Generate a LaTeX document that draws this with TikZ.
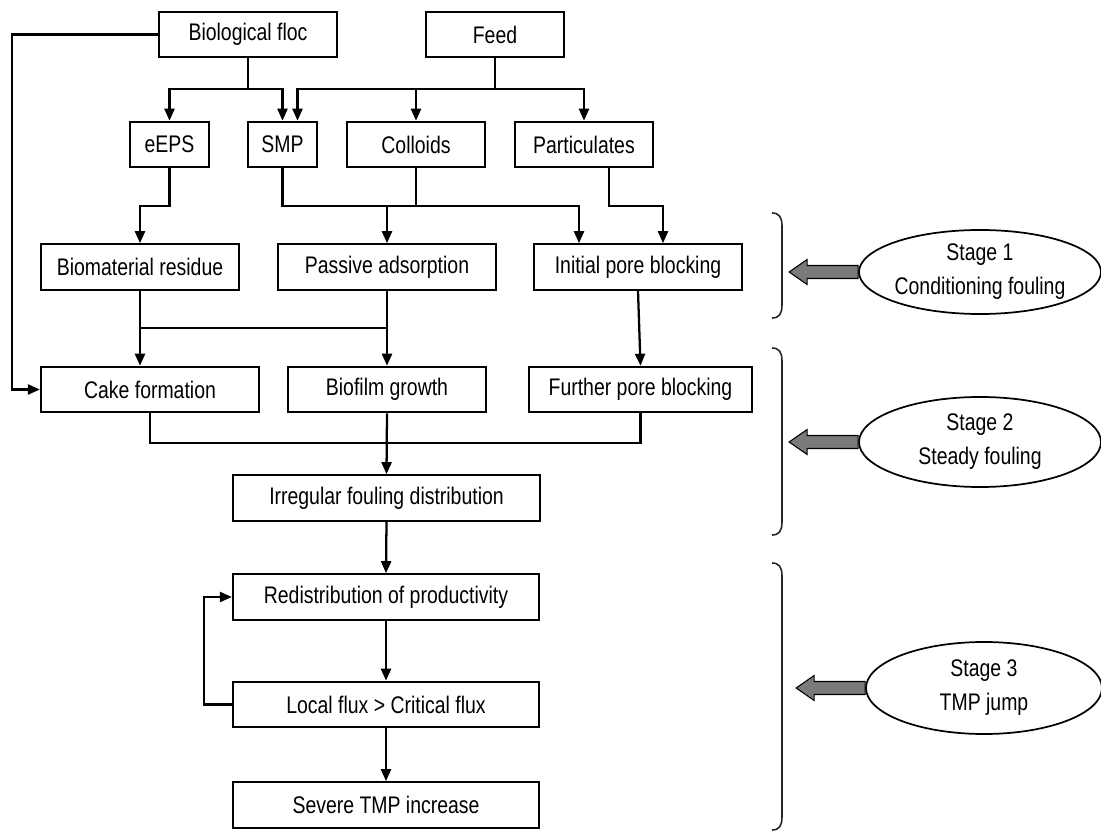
\documentclass[tikz,border=0pt]{standalone}
\usepackage{fontspec}
\setmainfont{Liberation Sans}[FakeStretch=0.81]
\usetikzlibrary{arrows.meta,calc,shapes.geometric}
\begin{document}
\begin{tikzpicture}[x=0.75pt,y=-0.75pt,
  box/.style={draw,line width=1.7pt,minimum height=34pt,inner sep=0pt,
    font=\fontsize{18pt}{21pt}\selectfont},
  conn/.style={line width=1.7pt},
  arr/.style={conn,-{Triangle[length=9pt,width=7.5pt]}},
  stageell/.style={draw,ellipse,line width=1.3pt,inner sep=0pt,minimum width=181.5pt,minimum height=63pt},
  stagetxt/.style={align=center,font=\fontsize{18pt}{25.5pt}\selectfont},
  bracket/.style={line width=1.2pt,draw=black!85},
  blockarr/.style={fill=black!52,draw=black,line width=0.8pt,line join=miter}]
\useasboundingbox (0,0) rectangle (1101,831);
% boxes
\node[box,minimum width=133.5pt] (bio) at (248,34.5) {Biological floc};
\node[box,minimum width=103.5pt] (feed) at (495,34.5) {Feed};
\node[box,minimum width=59.25pt] (eeps) at (169.5,144.5) {eEPS};
\node[box,minimum width=51.75pt] (smp) at (282.5,144.5) {SMP};
\node[box,minimum width=103.5pt] (coll) at (416,144.5) {Colloids};
\node[box,minimum width=103.5pt] (part) at (584,144.5) {Particulates};
\node[box,minimum width=148.5pt] (bres) at (140,267) {Biomaterial residue};
\node[box,minimum width=163.5pt] (pads) at (387,267) {Passive adsorption};
\node[box,minimum width=156pt] (ipb) at (638,267) {Initial pore blocking};
\node[box,minimum width=163.5pt] (cake) at (150,389.5) {Cake formation};
\node[box,minimum width=148.5pt] (bfg) at (387,389.5) {Biofilm growth};
\node[box,minimum width=167.25pt] (fpb) at (640.5,389.5) {Further pore blocking};
\node[box,minimum width=230.25pt] (irr) at (386.5,498) {Irregular fouling distribution};
\node[box,minimum width=229.5pt] (red) at (386,597) {Redistribution of productivity};
\node[box,minimum width=229.5pt] (loc) at (386,704.5) {Local flux > Critical flux};
\node[box,minimum width=229.5pt] (sev) at (386,805) {Severe TMP increase};
% junction levels
\coordinate (jA) at (0,89);
\coordinate (jB) at (0,206);
\coordinate (jC) at (0,328);
\coordinate (jD) at (0,443);
\coordinate (jL) at (12,0);
\coordinate (jE) at (204,0);
\coordinate (smpR) at ($(smp.north)+(15,0)$);
\coordinate (ipbL) at ($(ipb.north)+(-59,0)$);
\coordinate (ipbR) at ($(ipb.north)+(25,0)$);
\coordinate (partR) at ($(part.south)+(25,0)$);
% connectors top
\draw[arr] (bio.south) -- (bio.south |- jA) -| (eeps.north);
\draw[arr] (bio.south |- jA) -| (smp.north);
\draw[conn] (feed.south) -- (feed.south |- jA);
\draw[arr] (feed.south |- jA) -| (part.north);
\draw[arr] (feed.south |- jA) -| (smpR);
\draw[arr] (coll.north |- jA) -- (coll.north);
\draw[arr] (bio.west) -- (bio.west -| jL) |- (cake.west);
% row 2 to row 3
\draw[arr] (eeps.south) -- (eeps.south |- jB) -| (bres.north);
\draw[arr] (smp.south) |- (ipbL |- jB) -- (ipbL);
\draw[conn] (coll.south) -- (coll.south |- jB);
\draw[arr] (pads.north |- jB) -- (pads.north);
\draw[arr] (partR) -- (partR |- jB) -| (ipbR);
% row 3 to row 4
\draw[arr] (bres.south) -- (bres.south |- cake.north);
\draw[arr] (pads.south) -- (bfg.north);
\draw[conn] (bres.south |- jC) -- (pads.south |- jC);
\draw[arr] (ipb.south) -- (fpb.north);
% row 4 to bottom
\draw[conn] (cake.south) |- (fpb.south |- jD) -- (fpb.south);
\draw[arr] (bfg.south) -- (irr.north);
\draw[arr] (irr.south) -- (red.north);
\draw[arr] (red.south) -- (loc.north);
\draw[arr] (loc.south) -- (sev.north);
\draw[arr] (loc.west) -- (loc.west -| jE) |- (red.west);
% brackets
\draw[bracket] (772,213) .. controls (779,213) and (782,217) .. (782,226) -- (782,305) .. controls (782,314) and (779,318) .. (772,318);
\draw[bracket] (772,348) .. controls (779,348) and (782,352) .. (782,361) -- (782,522) .. controls (782,531) and (779,535) .. (772,535);
\draw[bracket] (772,563) .. controls (779,563) and (782,567) .. (782,576) -- (782,817) .. controls (782,826) and (779,830) .. (772,830);
% stage ellipses
\node[stageell] (e1) at (980,272) {};
\node[stagetxt] (t1) at (e1) {Stage 1\\Conditioning fouling};
\node[stageell,minimum height=67.5pt] (e2) at (980,442) {};
\node[stagetxt] (t2) at (e2) {Stage 2\\Steady fouling};
\node[stageell,minimum width=177pt,minimum height=69pt] (e3) at (984,688) {};
\node[stagetxt] (t3) at (e3) {Stage 3\\TMP jump};
% block arrows
\foreach \e in {e1,e2,e3}{
  \draw[blockarr] ($(\e.west)+(0,-6.5)$) -- ++(-51,0) -- ++(0,-6) -- ++(-18,12.5) -- ++(18,12.5) -- ++(0,-6) -- ++(51,0) -- cycle;
}
\end{tikzpicture}
\end{document}
